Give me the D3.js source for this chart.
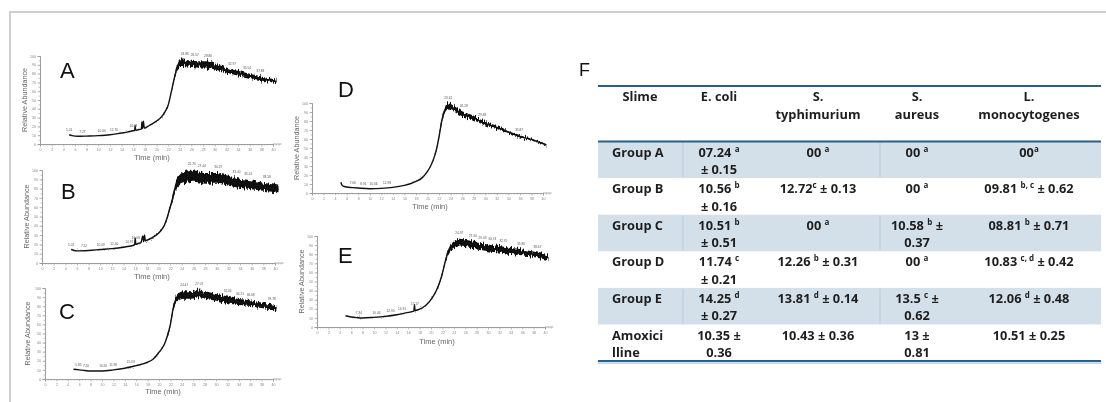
<!DOCTYPE html>
<html>
<head>
<meta charset="utf-8">
<script src="https://cdn.jsdelivr.net/npm/d3@7/dist/d3.min.js"></script>
<style>
  html, body { margin: 0; padding: 0; background: #fff; }
  svg { display: block; }
</style>
</head>
<body>
<svg id="fig" width="1106" height="402">
  <defs>
    <filter id="jag" x="-2%" y="-40%" width="104%" height="180%">
      <feTurbulence type="fractalNoise" baseFrequency="1.3 0.08" numOctaves="2" seed="4" result="n"/>
      <feColorMatrix in="n" type="matrix" values="1 0 0 0 0  0 0 0 0 0.5  0 0 0 0 0  0 0 0 0 1" result="m"/>
      <feDisplacementMap in="SourceGraphic" in2="m" scale="8" xChannelSelector="G" yChannelSelector="R"/>
    </filter>
  </defs>
</svg>
<script>
// ---- chromatograms (time in min, relative abundance in %) ----
const timeA = [5.0, 5.5, 6, 7, 8, 10, 12, 14, 15, 16, 16.25, 16.33, 16.42, 17, 17.4, 17.5, 17.6, 17.75, 17.9, 18.5, 19, 20, 21, 21.5, 22, 22.5, 23, 23.5, 24, 25, 26, 27, 28, 29, 30, 31, 32, 33, 34, 35, 36, 37, 38, 39, 40, 40.6];
const absA  = [10.5, 9.5, 9, 8.8, 9, 9.5, 10.5, 12.5, 13.5, 15, 15.2, 21, 15.5, 16.5, 17, 25, 17.5, 26, 18, 20, 22, 26, 32, 37, 44, 58, 73, 86, 92.5, 92, 91, 90.5, 90.5, 90, 88, 86, 84, 82, 80.5, 79, 77.5, 76, 74.5, 73, 72, 71];
const peaksA = [5.01, 7.27, 10.60, 12.70, 16.03, 24.86, 26.57, 28.86, 32.97, 35.54, 37.83];

const timeB = [5.0, 5.5, 6, 8, 10, 12, 14, 15, 15.9, 16.0, 16.1, 16.5, 17, 17.3, 17.45, 17.6, 17.75, 18, 19, 20, 20.5, 21, 21.5, 22, 22.5, 23, 23.5, 24, 25, 26, 27, 28, 29, 30, 31, 32, 33, 34, 35, 36, 37, 38, 39, 40, 40.6];
const absB  = [14.5, 13.5, 13, 13.5, 14.5, 15.5, 17, 18, 19.5, 27, 20, 21, 22, 29, 23, 30, 24, 24.5, 27.5, 32, 35.5, 40.5, 49, 60, 71, 84, 88.5, 91, 92.5, 93.5, 92.5, 91, 91, 91, 90, 88.5, 87, 85.5, 85, 84, 83, 82, 81, 80, 79];
const peaksB = [5.01, 7.22, 10.09, 12.40, 14.97, 16.08, 25.70, 27.44, 30.27, 33.40, 35.41, 38.58];

const timeC = [5.0, 6, 7, 8, 10, 12, 14, 16, 17, 18, 19, 20, 20.5, 21, 21.5, 22, 22.5, 23, 23.5, 24, 25, 26, 27, 28, 29, 30, 31, 32, 33, 34, 35, 36, 37, 38, 39, 40, 40.6];
const absC  = [10.7, 10, 9.3, 8.8, 8.8, 10, 11.8, 14.7, 16.3, 18.4, 22, 29.4, 33.5, 39, 48, 60, 78, 87.5, 90.5, 92, 92.3, 92.6, 94, 92.6, 91, 89.7, 88.5, 87, 85.5, 84.5, 84, 83.4, 82, 81, 80, 79, 78];
const peaksC = [5.85, 7.20, 10.20, 11.98, 15.03, 24.41, 27.07, 32.04, 34.21, 36.08, 39.78];

const timeD = [5.0, 5.1, 5.3, 5.6, 6, 7, 8, 10, 12, 14, 16, 17, 18, 19, 20, 20.5, 21, 21.5, 22, 22.5, 23, 23.5, 24, 25, 26, 27, 28, 29, 30, 31, 32, 33, 34, 35, 36, 37, 38, 39, 40, 40.6];
const absD  = [12, 10, 8, 7.2, 6.6, 6, 5.5, 4.8, 5.1, 6.2, 8.5, 10.3, 12.9, 16.5, 24, 29.5, 36.8, 47, 62.5, 81, 92, 96.3, 95.6, 92, 88, 85.7, 83.5, 80, 77, 75, 72.8, 70.5, 68, 65.5, 63, 61, 59.5, 57, 55, 53.3];
const peaksD = [7.06, 8.91, 10.66, 12.98, 23.61, 26.28, 29.48, 35.87];

const timeE = [5.0, 6, 7, 8, 10, 12, 14, 15, 16, 17, 17.1, 17.2, 18, 19, 20, 20.5, 21, 21.5, 22, 22.5, 23, 23.5, 24, 25, 26, 27, 28, 29, 30, 31, 32, 33, 34, 35, 36, 37, 38, 39, 40, 40.6];
const absE  = [12.4, 11, 10.3, 9.9, 10.6, 11.7, 13.5, 14.7, 16, 17.5, 24.5, 18, 19.7, 23.4, 30, 35, 41, 49, 59, 72, 81.8, 87, 90, 92.7, 92, 90.5, 89, 88, 87, 86, 85.4, 84.5, 83.6, 83, 82, 81, 80, 78.5, 77, 76];
const peaksE = [7.34, 10.44, 12.90, 14.91, 17.17, 24.97, 27.34, 29.03, 30.74, 32.70, 35.80, 38.67];

// ---- table F ----
const tableHeads = [["Slime"], ["E. coli"], ["S.", "typhimurium"], ["S.", "aureus"], ["L.", "monocytogenes"]];
const slimeGroups = [["Group A"], ["Group B"], ["Group C"], ["Group D"], ["Group E"], ["Amoxici", "lline"]];
const ecoliVals = [["07.24 {a}", "± 0.15"], ["10.56 {b}", "± 0.16"], ["10.51 {b}", "± 0.51"], ["11.74 {c}", "± 0.21"], ["14.25 {d}", "± 0.27"], ["10.35 ±", "0.36"]];
const typhiVals = [["00 {a}"], ["12.72{c} ± 0.13"], ["00 {a}"], ["12.26 {b} ± 0.31"], ["13.81 {d} ± 0.14"], ["10.43 ± 0.36"]];
const aureusVals = [["00 {a}"], ["00 {a}"], ["10.58 {b} ±", "0.37"], ["00 {a}"], ["13.5 {c} ±", "0.62"], ["13 ±", "0.81"]];
const monoVals = [["00{a}"], ["09.81 {b, c} ± 0.62"], ["08.81 {b} ± 0.71"], ["10.83 {c, d} ± 0.42"], ["12.06 {d} ± 0.48"], ["10.51 ± 0.25"]];

const svg = d3.select("#fig");

// outer frame
svg.append("path")
    .attr("d", "M10,402 L10,12 L1106,12")
    .attr("fill", "none")
    .attr("stroke", "#cfcfcf")
    .attr("stroke-width", 2);

const panels = [
    { name: "A", t: timeA, v: absA, peaks: peaksA, spread: 4.6, x0: 40, x40: 273, y100: 56, y0: 144, ytx: 25, lx: 60, ly: 78, ttx: 152, tty: 160 },
    { name: "B", t: timeB, v: absB, peaks: peaksB, spread: 7.2, x0: 42, x40: 275, y100: 170, y0: 263, ytx: 27, lx: 61, ly: 199, ttx: 152, tty: 279 },
    { name: "C", t: timeC, v: absC, peaks: peaksC, spread: 5.0, x0: 45, x40: 273, y100: 288, y0: 379, ytx: 28, lx: 59, ly: 319, ttx: 163, tty: 394 },
    { name: "D", t: timeD, v: absD, peaks: peaksD, spread: 3.8, x0: 312, x40: 543, y100: 103, y0: 193, ytx: 297, lx: 338, ly: 97, ttx: 430, tty: 209 },
    { name: "E", t: timeE, v: absE, peaks: peaksE, spread: 5.2, x0: 317, x40: 545, y100: 236, y0: 327, ytx: 302, lx: 338, ly: 263, ttx: 437, tty: 344 },
];

const plotFont = "Liberation Sans, Arial, sans-serif";

panels.forEach((p) => {
    const x = d3.scaleLinear().domain([0, 40]).range([p.x0, p.x40]);
    const y = d3.scaleLinear().domain([0, 100]).range([p.y0, p.y100]);
    const g = svg.append("g").attr("opacity", 0.995);
    const data = p.t.map((t, i) => ({ t: t, v: p.v[i] }));

    // axes
    const xMinor = d3.axisBottom(x).tickValues(d3.range(0, 41.01, 0.5)).tickSize(1.5).tickFormat("");
    const xMajor = d3.axisBottom(x).tickValues(d3.range(0, 41, 2)).tickSize(2.5).tickPadding(1.5);
    const yMinor = d3.axisLeft(y).tickValues(d3.range(0, 101, 5)).tickSize(1.5).tickFormat("");
    const yMajor = d3.axisLeft(y).tickValues(d3.range(0, 101, 10)).tickSize(2.5).tickPadding(1.5);

    [xMinor, xMajor].forEach((ax) => {
        g.append("g").attr("transform", `translate(0,${p.y0})`).call(ax);
    });
    [yMinor, yMajor].forEach((ax) => {
        g.append("g").attr("transform", `translate(${p.x0},0)`).call(ax);
    });
    g.selectAll(".domain").attr("stroke", "#9a9a9a").attr("stroke-width", 0.8);
    g.selectAll(".tick line").attr("stroke", "#9a9a9a").attr("stroke-width", 0.6);
    g.selectAll(".tick text").attr("font-size", 3.6).attr("fill", "#888").attr("font-family", plotFont);
    // x axis line runs a little past 40
    g.append("line")
        .attr("x1", x(40)).attr("x2", x(41.5))
        .attr("y1", p.y0).attr("y2", p.y0)
        .attr("stroke", "#9a9a9a").attr("stroke-width", 0.8);

    // axis titles
    g.append("text")
        .attr("transform", `translate(${p.ytx},${(p.y0 + p.y100) / 2}) rotate(-90)`)
        .attr("text-anchor", "middle")
        .attr("dominant-baseline", "middle")
        .attr("font-family", plotFont)
        .attr("font-size", 7.2)
        .attr("fill", "#666")
        .text("Relative Abundance");
    g.append("text")
        .attr("x", p.ttx).attr("y", p.tty)
        .attr("text-anchor", "middle")
        .attr("font-family", plotFont)
        .attr("font-size", 7.5)
        .attr("fill", "#666")
        .text("Time (min)");

    // noisy band around the signal, wider where the signal is high
    const half = (d) => p.spread * Math.pow(d.v / 100, 2.5);
    const band = d3.area()
        .x((d) => x(d.t))
        .y0((d) => y(d.v - half(d)))
        .y1((d) => y(d.v + half(d)))
        .curve(d3.curveMonotoneX);
    g.append("path")
        .datum(data)
        .attr("d", band)
        .attr("fill", "#0d0d0d")
        .attr("filter", "url(#jag)");

    const line = d3.line().x((d) => x(d.t)).y((d) => y(d.v)).curve(d3.curveMonotoneX);
    g.append("path")
        .datum(data)
        .attr("d", line)
        .attr("fill", "none")
        .attr("stroke", "#111")
        .attr("stroke-width", 1.4);

    // peak labels
    const interp = (t) => {
        const i = d3.bisector((d) => d.t).left(data, t);
        if (i <= 0) return data[0].v;
        if (i >= data.length) return data[data.length - 1].v;
        const a = data[i - 1], b = data[i];
        return a.v + ((b.v - a.v) * (t - a.t)) / (b.t - a.t);
    };
    g.selectAll(".peak")
        .data(p.peaks)
        .enter()
        .append("text")
        .attr("x", (d) => x(d))
        .attr("y", (d) => {
            const v = interp(d);
            return y(v + half({ v: v }) * 1.4) - 3.5;
        })
        .attr("text-anchor", "middle")
        .attr("font-family", plotFont)
        .attr("font-size", 3.2)
        .attr("fill", "#555")
        .text((d) => d.toFixed(2));

    // panel letter
    svg.append("text")
        .attr("x", p.lx).attr("y", p.ly)
        .attr("font-family", plotFont)
        .attr("font-size", 22)
        .attr("fill", "#111")
        .text(p.name);
});

// ---- table F ----
svg.append("text")
    .attr("x", 579).attr("y", 76)
    .attr("font-family", plotFont)
    .attr("font-size", 18)
    .attr("fill", "#111")
    .text("F");

const cols = [
    { x0: 598, x1: 683, cx: 640, left: 612, vals: slimeGroups },
    { x0: 683, x1: 755, cx: 719, vals: ecoliVals },
    { x0: 755, x1: 880, cx: 818, vals: typhiVals },
    { x0: 880, x1: 955, cx: 917, vals: aureusVals },
    { x0: 955, x1: 1101, cx: 1029, vals: monoVals },
];
const tLeft = 598, tRight = 1101, headTop = 86, bodyTop = 141.5, rowH = 36.6;
const font = "'Open Sans', Roboto, sans-serif";

const rowTops = slimeGroups.map((d, i) => bodyTop + i * rowH);
svg.selectAll(".shade")
    .data(rowTops.filter((d, i) => i % 2 === 0))
    .enter()
    .append("rect")
    .attr("x", tLeft).attr("y", (d) => d)
    .attr("width", tRight - tLeft).attr("height", rowH)
    .attr("fill", "#d4e0e9");
rowTops.filter((d, i) => i % 2 === 0).forEach((top) => {
    [683, 880].forEach((cx) => {
        svg.append("line")
            .attr("x1", cx).attr("x2", cx).attr("y1", top + 1).attr("y2", top + rowH - 1)
            .attr("stroke", "#b9cad7").attr("stroke-width", 1);
    });
});

// rules
[headTop, bodyTop].forEach((yy) => {
    svg.append("line")
        .attr("x1", tLeft).attr("x2", tRight).attr("y1", yy).attr("y2", yy)
        .attr("stroke", "#2c5f87").attr("stroke-width", 2);
});
const bottomY = bodyTop + rowTops.length * rowH;
svg.append("line")
    .attr("x1", tLeft).attr("x2", tRight).attr("y1", bottomY).attr("y2", bottomY)
    .attr("stroke", "#2c5f87").attr("stroke-width", 2);
svg.append("line")
    .attr("x1", tLeft).attr("x2", tRight).attr("y1", bottomY + 2).attr("y2", bottomY + 2)
    .attr("stroke", "#9fb8cc").attr("stroke-width", 1);

// write a line that may hold {superscript} parts
function writeLine(sel, str) {
    const parts = str.split(/(\{[^}]*\})/).filter((s) => s.length);
    let raised = false;
    parts.forEach((s) => {
        const sup = s[0] === "{";
        const ts = sel.append("tspan").text(sup ? s.slice(1, -1) : s);
        if (sup) {
            ts.attr("font-size", 8).attr("dy", -5);
            raised = true;
        } else if (raised) {
            ts.attr("dy", 5);
            raised = false;
        }
    });
}

// header
tableHeads.forEach((lines, ci) => {
    lines.forEach((ln, li) => {
        svg.append("text")
            .attr("x", cols[ci].cx).attr("y", 101 + li * 18)
            .attr("text-anchor", "middle")
            .attr("font-family", font).attr("font-weight", 700).attr("font-size", 12.8)
            .attr("fill", "#1e1e1e")
            .text(ln);
    });
});

// body
cols.forEach((c, ci) => {
    c.vals.forEach((lines, ri) => {
        lines.forEach((ln, li) => {
            const t = svg.append("text")
                .attr("x", ci === 0 ? c.left : c.cx)
                .attr("y", rowTops[ri] + 15 + li * 17.5)
                .attr("text-anchor", ci === 0 ? "start" : "middle")
                .attr("font-family", font).attr("font-weight", 700).attr("font-size", 12.8)
                .attr("fill", "#1e1e1e");
            writeLine(t, ln);
        });
    });
});
</script>
</body>
</html>
